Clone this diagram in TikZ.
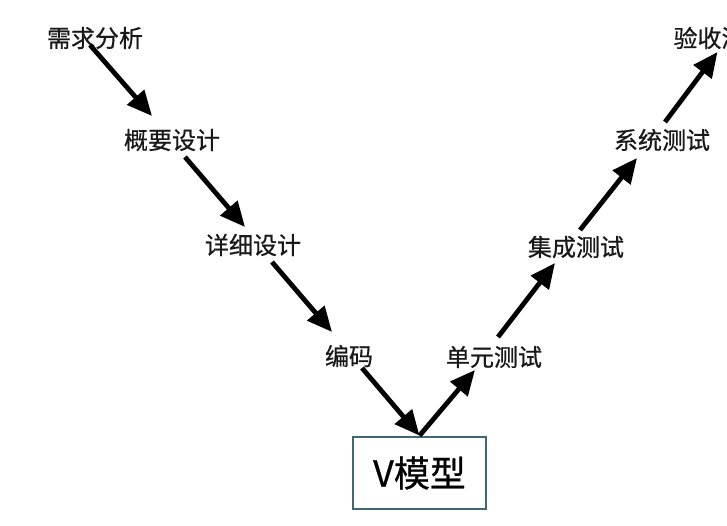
\documentclass[tikz,border=0pt]{standalone}
\usepackage{fontspec}
\setmainfont{Noto Sans CJK SC}
\newfontfamily\lblfont[FakeBold=0.6]{Noto Sans CJK SC}
\usetikzlibrary{arrows.meta,calc}
\definecolor{boxline}{RGB}{62,104,116}
\tikzset{
  lbl/.style={font=\lblfont\fontsize{24}{24}\selectfont, inner sep=0pt, text=black!90},
  arr/.style={line width=4.8pt, -{Triangle[length=25pt,width=22pt]}, black},
  vbox/.style={draw=boxline, line width=2.8pt, minimum width=133pt, minimum height=72pt, inner sep=0pt, font=\lblfont\fontsize{36}{36}\selectfont}
}
\begin{document}
\begin{tikzpicture}[x=1pt,y=-1pt]
\clip (0,0) rectangle (727,526);
\fill[white] (0,0) rectangle (727,526);
\node[lbl] (a) at (95,38) {需求分析};
\node[lbl] (b) at (172,140) {概要设计};
\node[lbl] (c) at (253,245) {详细设计};
\node[lbl] (d) at (349,356) {编码};
\node[vbox] (v) at (419.5,473) {V模型};
\node[lbl] (e) at (494,357) {单元测试};
\node[lbl] (f) at (576,247) {集成测试};
\node[lbl] (g) at (662,140) {系统测试};
\node[lbl] (h) at (721.5,38) {验收测试};
\draw[arr] ($(a)+(-5,7)$) -- ($(b)+(-20,-24)$);
\draw[arr] ($(b)+(13,17)$) -- ($(c)+(-8,-18)$);
\draw[arr] ($(c)+(19,17)$) -- ($(d)+(-17,-24)$);
\draw[arr] ($(d)+(13,12)$) -- (v.north);
\draw[arr] (v.north) -- ($(e)+(-19,13)$);
\draw[arr] ($(e)+(4,-20)$) -- ($(f)+(-21,16)$);
\draw[arr] ($(f)+(4,-17)$) -- ($(g)+(-25,18)$);
\draw[arr] ($(g)+(3,-18)$) -- ($(h)+(-4,14)$);
\end{tikzpicture}
\end{document}
